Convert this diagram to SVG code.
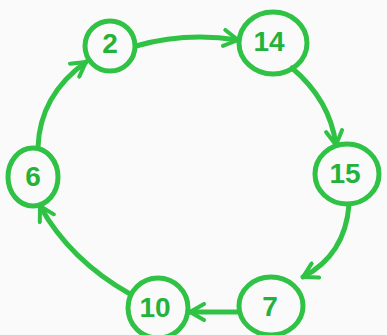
<svg xmlns="http://www.w3.org/2000/svg" width="387" height="335" viewBox="0 0 387 335">
<style>
.n ellipse{fill:none;stroke:#2fc244;stroke-width:5}
.n text{font-family:"Liberation Sans",Arial,sans-serif;font-weight:bold;font-size:28px;fill:#23b23a;text-anchor:middle;dominant-baseline:central}
.e path{fill:none;stroke:#2fc244;stroke-width:5;stroke-linecap:round;marker-end:url(#ah)}
</style>
<defs>
<marker id="ah" viewBox="0 0 10 10" refX="8" refY="5" markerWidth="4" markerHeight="4" orient="auto" markerUnits="strokeWidth">
<path d="M1,1 L8,5 L1,9" fill="none" stroke="#2fc244" stroke-width="2" stroke-linecap="round" stroke-linejoin="round"/>
</marker>
</defs>
<rect width="387" height="335" fill="#fafafa"/>
<g class="e">
<path d="M136,46 Q185,32 238,40"/>
<path d="M292,68 Q330,100 336,145"/>
<path d="M349,205 Q345,255 303,277"/>
<path d="M238,312 L190,312"/>
<path d="M130,294 Q70,260 40,206"/>
<path d="M38,147 Q40,95 86,62"/>
</g>
<g id="n2" class="n"><ellipse cx="110" cy="46" rx="25" ry="25"/><text x="110" y="43">2</text></g>
<g id="n14" class="n"><ellipse cx="273" cy="43" rx="34" ry="31"/><text x="269" y="41">14</text></g>
<g id="n15" class="n"><ellipse cx="347" cy="174" rx="32" ry="30"/><text x="345" y="173">15</text></g>
<g id="n7" class="n"><ellipse cx="271" cy="306" rx="32" ry="29"/><text x="270" y="306">7</text></g>
<g id="n10" class="n"><ellipse cx="158" cy="308" rx="30" ry="30"/><text x="155" y="307">10</text></g>
<g id="n6" class="n"><ellipse cx="33" cy="177" rx="25" ry="29"/><text x="33" y="176">6</text></g>
</svg>
